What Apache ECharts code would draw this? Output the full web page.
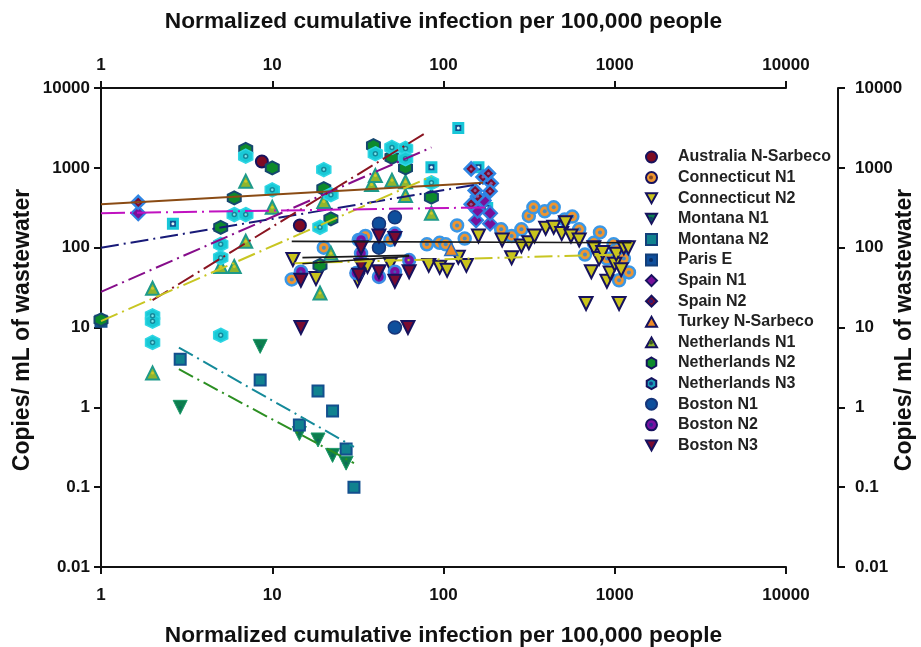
<!DOCTYPE html>
<html><head><meta charset="utf-8">
<style>html,body{margin:0;padding:0;background:#fff}#c{width:921px;height:647px;filter:blur(0.45px)}</style>
<script src="https://cdn.jsdelivr.net/npm/echarts@6/dist/echarts.min.js"></script>
</head><body><div id="c"></div>
<script>
const xTickLabels = ['1','10','100','1000','10000'];
const yTickLabels = ['0.01','0.1','1','10','100','1000','10000'];
const xAxisTitle = 'Normalized cumulative infection per 100,000 people';
const yAxisTitle = 'Copies/ mL of wastewater';

const australiaNSarbeco = [[8.7,1200],[14.5,190]];
const connecticutN1 = [[13,40],[20,100],[32,125],[35,140],[49,125],[80,110],[95,115],[103,110],[120,190],[133,130],[217,170],[250,140],[285,170],[315,250],[335,320],[390,285],[440,320],[510,225],[565,245],[620,170],[670,82],[755,115],[820,155],[900,73],[985,110],[1020,95],[1130,73],[1210,49],[1060,39]];
const connecticutN2 = [[13.2,71],[18,41],[32,43],[31.5,39],[36,58],[49,62],[82,60],[95,57],[105,52],[122,76],[136,60],[160,140],[220,125],[250,75],[285,105],[315,115],[340,140],[395,175],[440,180],[490,150],[515,205],[555,140],[620,125],[680,20],[730,50],[755,100],[810,73],[850,87],[900,38],[940,48],[1000,62],[1020,83],[1060,20],[1090,53],[1130,100],[1200,100]];
const montanaN1 = [[2.9,1],[8.5,5.8],[14.4,0.47],[18.5,0.39],[22.5,0.25],[27,0.2]];
const montanaN2 = [[1,12],[2.9,4],[8.5,2.2],[14.4,0.6],[18.5,1.6],[22.5,0.9],[27,0.3],[30,0.1]];
const parisE = [[2.63,200],[85,1020],[122,3150],[160,1020],[180,315]];
const spainN1 = [[1.65,270],[155,220],[158,290],[172,390],[187,200],[187,270]];
const spainN2 = [[1.65,370],[145,970],[170,770],[183,850],[190,640],[187,510],[158,440],[153,520],[145,350]];
const turkeyNSarbeco = [[111,96]];
const netherlandsN1 = [[2,31],[2,2.7],[5,58],[6,58],[7,120],[7,680],[10,320],[19,27],[20,380],[22,85],[38,620],[40,800],[50,700],[60,670],[60,450],[85,270]];
const netherlandsN2 = [[1,12.5],[5,180],[6,420],[7,1700],[10,1000],[19,60],[20,550],[22,230],[39,1900],[50,1350],[60,1000],[85,430]];
const netherlandsN3 = [[2,14],[2,12],[2,6.5],[5,110],[5,75],[5,8],[6,260],[7,260],[7,1400],[10,530],[19,180],[20,950],[22,460],[40,1500],[50,1800],[60,1750],[60,1300],[85,650]];
const bostonN1 = [[42,200],[52,240],[42,100],[52,10]];
const bostonN2 = [[14.7,50],[33,125],[33,85],[31,48],[42,43],[52,150],[52,50],[63,70]];
const bostonN3 = [[14.7,10],[14.7,39],[33,100],[33,60],[32,45],[42,140],[42,50],[52,130],[52,38],[62,10],[63,50]];

const fitBrown = [[1,350],[170,650]];
const fitNavy = [[1,100],[180,650]];
const fitPurple = [[1,28],[85,1800]];
const fitMaroon = [[2,22],[80,2800]];
const fitYellow = [[1,12],[85,780]];
const fitMagenta = [[1,270],[187,320]];
const fitBlack1 = [[13,120],[1250,115]];
const fitBlack2 = [[15,75],[63,80]];
const fitBlack3 = [[15,63],[63,78]];
const fitYellow2 = [[13.5,64],[1100,82]];
const fitTeal = [[2.85,5.6],[30,0.32]];
const fitGreen = [[2.85,3],[30,0.2]];

const HEX='path://M0 -10L8.66 -5L8.66 5L0 10L-8.66 5L-8.66 -5Z';
const DOWN='path://M-10 -8.5L10 -8.5L0 9.5Z';
const UP='path://M-10 8.5L10 8.5L0 -9.5Z';
const NAVY='#16125e';
// name, data, symbol, size, fill, plot border, border width, core colour, core size, core ring
const groups=[
 ['Australia N-Sarbeco',australiaNSarbeco,'circle',12,'#7d0b24',NAVY,2,null,0],
 ['Connecticut N1',connecticutN1,'circle',12,'#ee9530','#3a97e6',2.5,'#4a8cc0',4],
 ['Connecticut N2',connecticutN2,DOWN,13,'#c9c41c',NAVY,2,null,0],
 ['Montana N1',montanaN1,DOWN,14,'#0d7e4e','#1b9a6a',1,'#0d6a5a',3],
 ['Montana N2',montanaN2,'rect',11,'#10828f','#134f8e',2,null,0],
 ['Paris E',parisE,'rect',9,'#134f8e','#18c6d8',3,'#dff4f8',3],
 ['Spain N1',spainN1,'diamond',14,'#78109a','#2f7fe0',2,null,0],
 ['Spain N2',spainN2,'diamond',13,'#7a0c32','#2f86e4',2.5,'#8c5a9c',3],
 ['Turkey N-Sarbeco',turkeyNSarbeco,UP,13,'#ee8a26','#2f6fc0',1.5,null,0],
 ['Netherlands N1',netherlandsN1,UP,13,'#8fb52e','#1e9a8a',2,'#d0c82a',3],
 ['Netherlands N2',netherlandsN2,HEX,13,'#0d8a2c','#15476f',2,null,0],
 ['Netherlands N3',netherlandsN3,HEX,14,'#19c9d6','#2fd6e4',1.5,'#7fe6ec',4,'#13879a'],
 ['Boston N1',bostonN1,'circle',13,'#0e4f9c','#163579',1.5,null,0],
 ['Boston N2',bostonN2,'circle',12,'#7a10a2','#3a8ce4',2.5,'#3f5cae',3],
 ['Boston N3',bostonN3,DOWN,13,'#7a0b30',NAVY,2,null,0]
];
const legendBorder={'Montana N1':NAVY,'Montana N2':'#123f7a','Paris E':'#123f7a','Spain N1':NAVY,'Spain N2':NAVY,'Turkey N-Sarbeco':NAVY,'Netherlands N1':NAVY,'Netherlands N2':NAVY,'Netherlands N3':NAVY,'Connecticut N1':NAVY,'Boston N2':NAVY};
const legendFill={'Paris E':'#0f4f9c','Netherlands N3':'#1a9cb8'};
const legendCore={'Connecticut N1':'#8a4a20','Montana N1':'#123f6a','Paris E':'#0a2a60','Spain N2':'#2a1a7a','Netherlands N1':'#3a5a20','Netherlands N3':'#1a3a8a','Boston N2':'#2a2a90'};

const fits=[
 [fitTeal,'#158a9a',[16,5,2,5],2],[fitGreen,'#2c8f22',[16,5,2,5],2],
 [fitBrown,'#8a4b14',null,2],[fitNavy,'#181a78',[18,5,2,5],2],
 [fitPurple,'#860d8a',[18,5,2,5],2],[fitMaroon,'#8a1420',[18,5,2,5],2],
 [fitYellow,'#c8c622',[18,5,2,5],2],[fitYellow2,'#c8c622',[18,5,2,5],2],
 [fitMagenta,'#c012c0',[24,5,2,5],2],[fitBlack1,'#1a1a1a',null,1.6],
 [fitBlack2,'#1a1a1a',null,1.6],[fitBlack3,'#1a1a1a',null,1.6]
];
const series=[];
groups.forEach(g=>{
 series.push({type:'scatter',name:g[0],data:g[1],symbol:g[2],symbolSize:g[3],clip:false,
  itemStyle:{color:g[4],borderColor:g[5],borderWidth:g[6],opacity:1}});
 if(g[7]) series.push({type:'scatter',name:g[0]+' core',data:g[1],symbol:'circle',symbolSize:g[8],clip:false,silent:true,
  itemStyle:{color:g[7],opacity:1,borderColor:g[9]||g[7],borderWidth:g[9]?1.5:0}});
 else series.push({type:'scatter',name:g[0]+' core',data:[],symbol:'circle',itemStyle:{color:'#fff'}});
});
fits.forEach((f,i)=>series.push({type:'line',name:'fit'+i,data:f[0],showSymbol:false,symbol:'none',silent:true,clip:false,z:4,
 lineStyle:{color:f[1],width:f[3],type:f[2]||'solid'}}));

const font='"Liberation Sans",Arial,sans-serif';
const axisLine={show:true,lineStyle:{color:'#111',width:2}};
const tick=(len)=>({show:true,length:len,lineStyle:{color:'#111',width:2}});
const xLab=v=>xTickLabels[Math.round(Math.log10(v))];
const yLab=v=>yTickLabels[Math.round(Math.log10(v))+2];
const titleStyle={fontFamily:font,fontWeight:'bold',fontSize:22.7,color:'#111'};
const labelStyle={color:'#111',fontFamily:font,fontWeight:'bold',fontSize:17};
const option={
 animation:false,backgroundColor:'#fff',
 grid:{left:101,width:685,top:88,height:479,containLabel:false,outerBoundsMode:'none'},
 xAxis:[
  {type:'log',logBase:10,min:1,max:10000,position:'bottom',axisLine,axisTick:tick(7),splitLine:{show:false},minorTick:{show:false},
   axisLabel:{margin:20,formatter:xLab,...labelStyle},
   name:xAxisTitle,nameLocation:'middle',nameGap:57,nameTextStyle:titleStyle},
  {type:'log',logBase:10,min:1,max:10000,position:'top',axisLine,axisTick:tick(7),splitLine:{show:false},minorTick:{show:false},
   axisLabel:{margin:14,formatter:xLab,...labelStyle},
   name:xAxisTitle,nameLocation:'middle',nameGap:55,nameTextStyle:titleStyle}
 ],
 yAxis:[
  {type:'log',logBase:10,min:0.01,max:10000,position:'left',axisLine,axisTick:tick(7),splitLine:{show:false},minorTick:{show:false},
   axisLabel:{margin:11,formatter:yLab,...labelStyle}},
  {type:'log',logBase:10,min:0.01,max:10000,position:'right',offset:52,axisLine,axisTick:tick(7),splitLine:{show:false},minorTick:{show:false},
   axisLabel:{margin:17,formatter:yLab,...labelStyle}}
 ],
 legend:[
  {orient:'vertical',left:645,top:149,itemWidth:11,itemHeight:11,itemGap:4.6,selectedMode:false,padding:0,
   textStyle:{fontFamily:font,fontWeight:'bold',fontSize:16,lineHeight:14,color:'#222',padding:[0,0,0,16]},
   data:groups.map(g=>({name:g[0],icon:g[2],itemStyle:{color:legendFill[g[0]]||g[4],borderColor:legendBorder[g[0]]||g[5],borderWidth:2}}))},
  {orient:'vertical',left:649,top:149,itemWidth:4,itemHeight:4,itemGap:4.6,selectedMode:false,padding:0,formatter:()=>' ',
   textStyle:{fontSize:16,lineHeight:14,fontWeight:'bold',fontFamily:font},
   data:groups.map(g=>({name:g[0]+' core',icon:'circle',itemStyle:{color:legendCore[g[0]]||'rgba(0,0,0,0)',borderWidth:0}}))}
 ],
 graphic:[
  {type:'text',x:23,y:330,rotation:Math.PI/2,style:{text:yAxisTitle,fill:'#111',font:'bold 23px '+font,align:'center',verticalAlign:'middle'}},
  {type:'text',x:905,y:330,rotation:Math.PI/2,style:{text:yAxisTitle,fill:'#111',font:'bold 23px '+font,align:'center',verticalAlign:'middle'}}
 ],
 series
};
echarts.init(document.getElementById('c'),null,{renderer:'canvas',width:921,height:647}).setOption(option);
</script></body></html>
